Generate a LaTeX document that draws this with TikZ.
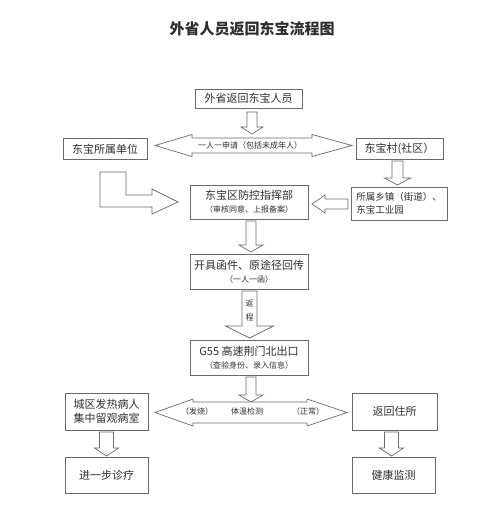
\documentclass[tikz,border=0pt]{standalone}
\usepackage{fontspec}
\setmainfont{Noto Sans CJK SC}
\usetikzlibrary{calc}
\definecolor{ln}{HTML}{6A6A6A}
\definecolor{tx}{HTML}{2E2E2E}
\tikzset{
 box/.style={draw=ln, line width=0.8pt, text=tx, inner sep=1pt, align=center, font=\fontsize{11}{14}\selectfont},
 blk/.style={draw=ln, line width=0.7pt, fill=white, line join=miter},
 small/.style={font=\fontsize{8}{9}\selectfont, text=tx, inner sep=0pt},
}
\newcommand\vblk[5]{% start, tip, half shaft, half head, head length
 \draw[blk] ($(#1)+(-#3,0)$) -- ($(#2)+(-#3,-#5)$) -- ($(#2)+(-#4,-#5)$) -- (#2) -- ($(#2)+(#4,-#5)$) -- ($(#2)+(#3,-#5)$) -- ($(#1)+(#3,0)$) -- cycle;}
\newcommand\dblk[6]{% left tip, right tip, half shaft, half head, left head len, right head len
 \draw[blk] (#1) -- ($(#1)+(#5,-#4)$) -- ($(#1)+(#5,-#3)$) -- ($(#2)+(-#6,-#3)$) -- ($(#2)+(-#6,-#4)$) -- (#2) -- ($(#2)+(-#6,#4)$) -- ($(#2)+(-#6,#3)$) -- ($(#1)+(#5,#3)$) -- ($(#1)+(#5,#4)$) -- cycle;}
\begin{document}
\begin{tikzpicture}[x=1pt,y=-1pt]
\useasboundingbox[fill=white] (0,0) rectangle (499,516);
% title
\node[text=tx, font=\fontsize{15}{18}\selectfont\bfseries] (title) at (252,29) {外省人员返回东宝流程图};
% boxes
\node[box, minimum width=107, minimum height=19] (b1) at (248.5,98.5) {外省返回东宝人员};
\node[box, minimum width=84, minimum height=21] (b2) at (105,149) {东宝所属单位};
\node[box, minimum width=87, minimum height=21] (b3) at (399.5,148.5) {东宝村(社区）};
\node[box, minimum width=96, minimum height=33, align=left, font=\fontsize{9.5}{13}\selectfont] (b4) at (399,203.5) {所属乡镇（街道）、\\东宝工业园};
\node[box, minimum width=118, minimum height=34] (b5) at (249,202) {东宝区防控指挥部\\[-1pt]{\fontsize{8}{10}\selectfont （审核同意、上报备案）}};
\node[box, minimum width=118, minimum height=35] (b6) at (249,272) {开具函件、原途径回传\\[-1pt]{\fontsize{8}{10}\selectfont （一人一函）}};
\node[box, minimum width=118, minimum height=35] (b7) at (249,357.5) {G55 高速荆门北出口\\[-1pt]{\fontsize{8}{10}\selectfont （查验身份、录入信息）}};
\node[box, minimum width=83, minimum height=37] (b8) at (106.5,411.5) {城区发热病人\\集中留观病室};
\node[box, minimum width=85, minimum height=37] (b9) at (394.5,411.5) {返回住所};
\node[box, minimum width=83, minimum height=36] (b10) at (106.5,475) {进一步诊疗};
\node[box, minimum width=83, minimum height=36] (b11) at (393.5,475) {健康监测};
% arrow coordinates
\coordinate (a1s) at (252,112); \coordinate (a1e) at (252,134);
\coordinate (d1l) at (155,145.5); \coordinate (d1r) at (352,145.5);
\coordinate (a2s) at (397.5,161); \coordinate (a2e) at (397.5,185);
\coordinate (a3s) at (251,221); \coordinate (a3e) at (251,252);
\coordinate (a4s) at (249.5,291); \coordinate (a4e) at (249.5,338);
\coordinate (a5s) at (251,377); \coordinate (a5e) at (251,402);
\coordinate (d2l) at (155,412.5); \coordinate (d2r) at (347,412.5);
\coordinate (a6s) at (106.5,432); \coordinate (a6e) at (106.5,456);
\coordinate (a7s) at (391.5,432); \coordinate (a7e) at (391.5,456);
% block arrows
\vblk{a1s}{a1e}{5}{11}{7}
\dblk{d1l}{d1r}{7.5}{11}{37}{40}
\node[small] (t1) at (250,145.5) {一人一申请（包括未成年人）};
\vblk{a2s}{a2e}{5.5}{13}{7}
\draw[blk] (348,199) -- (325,199) -- (325,195) -- (312,204) -- (325,213) -- (325,209) -- (348,209) -- cycle;
\draw[blk] (100,172) -- (126,172) -- (126,195) -- (152,195) -- (152,189) -- (178,202) -- (152,214) -- (152,207) -- (100,207) -- cycle;
\vblk{a3s}{a3e}{5}{12}{7}
\vblk{a4s}{a4e}{7.5}{24}{12}
\node[small] (t2) at (249.5,303) {返};
\node[small] (t3) at (249.5,318) {程};
\vblk{a5s}{a5e}{5}{12}{7}
\dblk{d2l}{d2r}{10.5}{13.5}{38}{40}
\node[small] (t4) at (197,411.5) {（发烧）};
\node[small] (t5) at (247,411.5) {体温检测};
\node[small] (t6) at (308,411.5) {（正常）};
\vblk{a6s}{a6e}{7}{12}{8}
\vblk{a7s}{a7e}{7}{12}{8}
\end{tikzpicture}
\end{document}
